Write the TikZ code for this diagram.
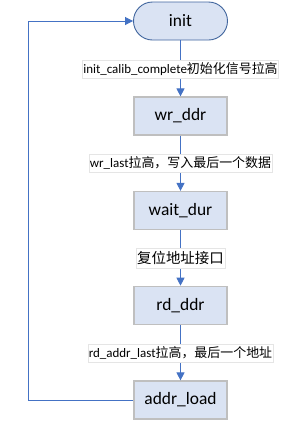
\documentclass[tikz,border=0pt]{standalone}
\usepackage{fontspec}
\setmainfont{Carlito}
\newfontfamily\cjk{Noto Sans CJK SC}
\usetikzlibrary{arrows.meta}
\definecolor{lineblue}{HTML}{4472C4}
\definecolor{boxfill}{HTML}{DAE3F3}
\definecolor{boxdraw}{HTML}{BFBFBF}
\definecolor{initdraw}{HTML}{41669E}
\begin{document}
\begin{tikzpicture}[x=1bp,y=-1bp,
  statebox/.style={draw=boxdraw,fill=boxfill,line width=1.2bp,minimum width=93bp,minimum height=38bp,inner sep=0pt,font=\fontsize{17.5}{20}\selectfont},
  initbox/.style={draw=initdraw,fill=boxfill,line width=0.9bp,rounded corners=19bp,minimum width=94bp,minimum height=38bp,inner sep=0pt,font=\fontsize{17.5}{20}\selectfont},
  lbl/.style={fill=white,draw=black!10,line width=0.6bp,inner xsep=1bp,inner ysep=0pt,minimum height=18bp,font=\fontsize{13}{15}\selectfont},
  conn/.style={draw=lineblue,line width=0.9bp},
  tip/.style={-{Triangle[width=8bp,length=8bp]}}
]
\useasboundingbox (0,0) rectangle (289,423);
\node[initbox] (init) at (180.5,21) {init};
\node[statebox] (wr) at (180.5,116) {wr\_ddr};
\node[statebox] (wait) at (180.5,210.5) {wait\_dur};
\node[statebox] (rd) at (180.5,305.3) {rd\_ddr};
\node[statebox] (addr) at (180.5,400) {addr\_load};
\coordinate (c1) at (28,400);
\coordinate (c2) at (28,21);
\draw[conn,tip,lineblue] (init) -- (wr);
\draw[conn,tip,lineblue] (wr) -- (wait);
\draw[conn,tip,lineblue] (wait) -- (rd);
\draw[conn,tip,lineblue] (rd) -- (addr);
\draw[conn,tip,lineblue] (addr.west) -- (c1) -- (c2) -- (init.west);
\node[lbl] (l1) at (180.5,69) {init\_calib\_complete{\cjk 初始化信号拉高}};
\node[lbl] (l2) at (180.5,163) {wr\_last{\cjk 拉高，写入最后一个数据}};
\node[lbl,font=\fontsize{14.5}{16}\selectfont,minimum height=20bp] (l3) at (180.5,258) {{\cjk 复位地址接口}};
\node[lbl] (l4) at (180.5,353) {rd\_addr\_last{\cjk 拉高，最后一个地址}};
\end{tikzpicture}
\end{document}
